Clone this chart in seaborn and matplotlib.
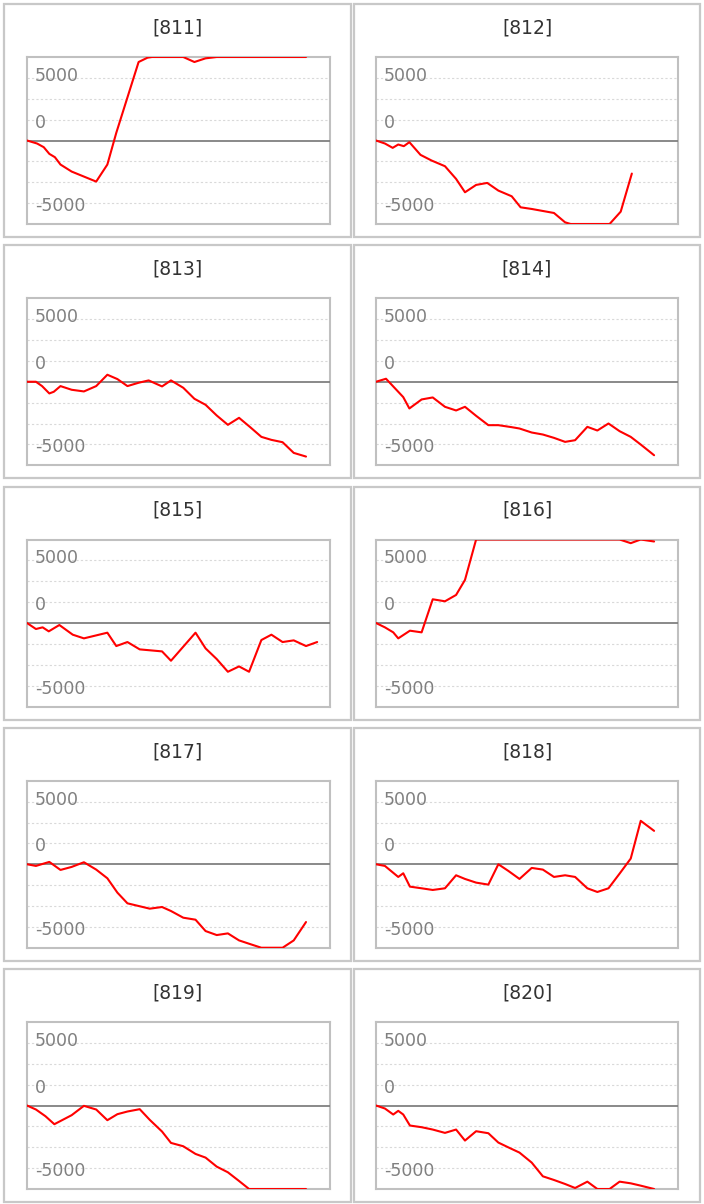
import matplotlib
matplotlib.use("Agg")
import matplotlib.pyplot as plt
from matplotlib.patches import Rectangle
import seaborn as sns

codes = ["[811]", "[812]", "[813]", "[814]", "[815]",
         "[816]", "[817]", "[818]", "[819]", "[820]"]

x_811 = [0, 0.9, 1.5, 2, 2.5, 3, 4, 6.2, 7.2, 8, 10, 10.8, 11.2, 14, 15, 16, 17, 25]
y_811 = [0, -360, -800, -1600, -2000, -2880, -3720, -4920, -2880, 920, 9400, 9920,
         10000, 10000, 9400, 9840, 10000, 10000]

x_812 = [0, 0.8, 1.5, 2, 2.5, 3, 4, 5, 6.2, 7.2, 8, 9, 10, 11, 12.2, 13, 14, 15, 16,
         17, 17.5, 21, 22, 23]
y_812 = [0, -360, -880, -480, -680, -200, -1720, -2400, -3080, -4600, -6200, -5320,
         -5080, -6000, -6680, -8000, -8200, -8440, -8680, -9800, -10000, -10000,
         -8520, -3960]

x_813 = [0, 0.8, 1.35, 2, 2.4, 3, 4, 5.1, 6.2, 7.2, 8.1, 9, 10, 10.9, 12.1, 12.9,
         14, 15, 16, 17, 18, 19, 20, 21, 21.9, 22.9, 23.9, 25]
y_813 = [0, 0, -520, -1400, -1200, -520, -960, -1160, -520, 840, 320, -520, -120,
         160, -560, 160, -720, -2040, -2760, -4040, -5160, -4320, -5440, -6600,
         -6960, -7240, -8520, -8960]

x_814 = [0, 0.9, 2.45, 3, 4.1, 5.1, 6.2, 7.2, 8, 9, 10.1, 11, 12.2, 12.9, 14, 15,
         16, 17, 17.9, 19, 19.9, 20.9, 21.9, 22.9, 23.8, 25]
y_814 = [0, 360, -1840, -3200, -2120, -1880, -3000, -3440, -3000, -4080, -5200,
         -5200, -5440, -5600, -6080, -6320, -6720, -7200, -7000, -5400, -5840,
         -5000, -5920, -6600, -7520, -8800]

x_815 = [0, 0.8, 1.4, 1.95, 2.9, 4.1, 5.1, 7.2, 8, 9, 10.1, 12.1, 12.9, 15.1, 16,
         17, 18, 19, 19.9, 21, 21.9, 22.9, 23.9, 25, 26]
y_815 = [0, -720, -520, -1000, -240, -1400, -1840, -1160, -2760, -2280, -3160,
         -3400, -4520, -1160, -3040, -4320, -5840, -5200, -5840, -2040, -1400,
         -2280, -2080, -2760, -2280]

x_816 = [0, 0.8, 1.55, 2, 3.05, 4.1, 5.1, 6.2, 7.2, 8, 9, 21.9, 22.9, 23.8, 25]
y_816 = [0, -520, -1120, -1840, -920, -1120, 2840, 2600, 3360, 5160, 10000, 10000,
         9560, 10000, 9760]

x_817 = [0, 0.8, 2, 3, 4, 5.1, 6.2, 7.2, 8.1, 9, 10, 11, 12.1, 12.9, 14, 15.1, 16,
         17, 18, 19, 19.9, 21, 22.9, 23.9, 25]
y_817 = [0, -200, 280, -680, -320, 240, -640, -1680, -3400, -4680, -5000, -5320,
         -5120, -5600, -6400, -6640, -8000, -8480, -8280, -9120, -9520, -10000,
         -10000, -9120, -6920]

x_818 = [0, 0.8, 2, 2.45, 3.05, 4.1, 5.1, 6.2, 7.2, 8, 9, 10.1, 11, 11.9, 12.9, 14,
         15, 16, 17, 17.9, 19, 19.9, 20.9, 21.9, 22.9, 23.8, 25]
y_818 = [0, -200, -1520, -1080, -2680, -2880, -3080, -2880, -1320, -1760, -2200,
         -2440, 0, -800, -1760, -440, -640, -1520, -1320, -1520, -2880, -3320,
         -2880, -1120, 680, 5200, 4000]

x_819 = [0, 0.8, 1.65, 2.45, 4, 5.1, 6.2, 7.2, 8.1, 9, 10.1, 11, 12.1, 12.9, 14,
         15.1, 16, 17, 18, 19, 19.9, 25]
y_819 = [0, -480, -1280, -2240, -1160, -40, -480, -1760, -1040, -720, -440, -1720,
         -3120, -4480, -4880, -5800, -6240, -7320, -8000, -9040, -10000, -10000]

x_820 = [0, 0.8, 1.55, 2, 2.45, 3.05, 4.1, 5.1, 6.2, 7.2, 8, 9, 10.1, 11, 12, 12.9,
         14, 15, 16, 17, 17.9, 19, 19.9, 21, 21.9, 22.9, 23.8, 25]
y_820 = [0, -360, -1080, -640, -1080, -2400, -2600, -2880, -3280, -2880, -4200,
         -3080, -3320, -4440, -5080, -5640, -6840, -8480, -8920, -9400, -9880,
         -9120, -10000, -10000, -9120, -9320, -9600, -10000]

series_x = [x_811, x_812, x_813, x_814, x_815, x_816, x_817, x_818, x_819, x_820]
series_y = [y_811, y_812, y_813, y_814, y_815, y_816, y_817, y_818, y_819, y_820]

grid_ticks = [-7500, -5000, -2500, 2500, 5000, 7500]
tick_labels = ["5000", "0", "-5000"]
tick_label_pos = [7750, 2150, -7850]

sns.set_style("white")

W, H = 704, 1204
fig = plt.figure(figsize=(W / 100, H / 100), dpi=100)

box_left = [4, 354]
box_w = [347, 346]
plot_left = [27, 376]
plot_w = [303, 302]
box_h = 233
plot_top_off, plot_h = 53, 167

for i, code in enumerate(codes):
    r, c = divmod(i, 2)
    top = 4 + r * 241.25

    # outer panel frame
    fig.add_artist(Rectangle((box_left[c] / W, 1 - (top + box_h) / H),
                             box_w[c] / W, box_h / H, transform=fig.transFigure,
                             fill=False, edgecolor="#c8c8c8", linewidth=1.6))
    fig.text((box_left[c] + box_w[c] / 2) / W, 1 - (top + 24) / H, code,
             ha="center", va="center", fontsize=13.5, color="#333333")

    ax = fig.add_axes([plot_left[c] / W, 1 - (top + plot_top_off + plot_h) / H,
                       plot_w[c] / W, plot_h / H])
    ax.set_xlim(0, 27.15)
    ax.set_ylim(-10000, 10000)
    ax.set_xticks([])
    ax.set_yticks(grid_ticks)
    ax.tick_params(left=False, labelleft=False)
    ax.yaxis.grid(True, color="#d9d9d9", linestyle=(0, (2, 2)), linewidth=0.8)
    ax.set_axisbelow(True)

    ax.axhline(0, color="#808080", linewidth=1.3, zorder=2)
    sns.lineplot(x=series_x[i], y=series_y[i], ax=ax, color="#ff0000",
                 linewidth=1.5, zorder=3)
    ax.set_xlabel("")
    ax.set_ylabel("")

    for s in ax.spines.values():
        s.set_color("#c0c0c0")
        s.set_linewidth(1.5)
        s.set_zorder(1.5)

    for lab, pos in zip(tick_labels, tick_label_pos):
        ax.text(0.026, pos, lab, transform=ax.get_yaxis_transform(),
                ha="left", va="center", fontsize=12.5, color="#808080", zorder=4)

fig.savefig("out.png", dpi=100)
